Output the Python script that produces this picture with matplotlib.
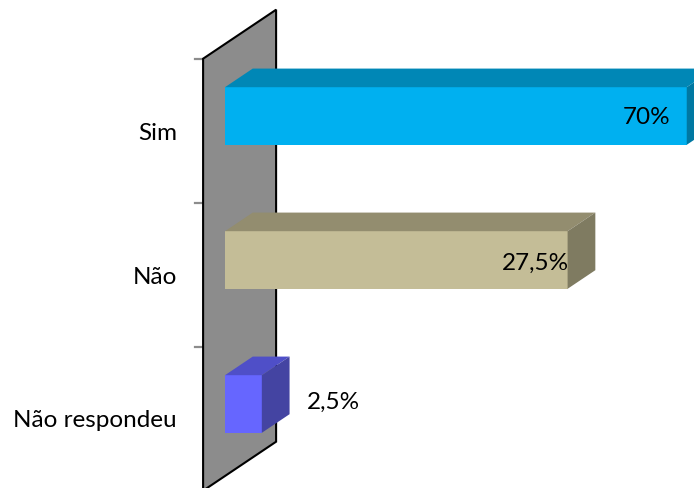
import matplotlib
matplotlib.use("Agg")
import matplotlib.pyplot as plt
from matplotlib.patches import Polygon
from matplotlib.transforms import IdentityTransform
import numpy as np

categories = ["Sim", "Não", "Não respondeu"]
values = [70, 27.5, 2.5]
value_labels = ["70%", "27,5%", "2,5%"]

front_colors = ["#00B0F0", "#C4BD97", "#6666FF"]
top_colors = ["#0087B6", "#938D6F", "#4F4FC8"]
side_colors = ["#0078A2", "#7F7B61", "#4444A2"]

plt.rcParams["font.family"] = ["Lato", "DejaVu Sans"]

W, H = 694, 489
fig = plt.figure(figsize=(W / 100, H / 100), dpi=100)
ax = fig.add_axes([225 / W, 12 / H, (W - 225) / W, 432 / H])
ax.patch.set_alpha(0)
ax.axis("off")

xmin, xmax = 1.873, 74.1
ax.set_xscale("log")
ax.set_xlim(xmin, xmax)
ax.set_ylim(2.5, -0.5)
ax.set_autoscale_on(False)

# depth direction of the 3d box, in pixels
depth = np.array([73.0, 49.0])
front_shift = -0.30 * depth   # wall front plane relative to bar fronts
bar_depth = 0.38 * depth

ident = IdentityTransform()
to_px = ax.transData.transform

# back wall
p_top = to_px((xmin, -0.5)) + front_shift
p_bot = to_px((xmin, 2.5)) + front_shift
wall = Polygon([p_bot, p_top, p_top + depth, p_bot + depth], closed=True,
               facecolor="#8C8C8C", edgecolor="black", linewidth=1.5,
               transform=ident, clip_on=False, zorder=0.5)
ax.add_patch(wall)

# ticks on the category axis
for b in [-0.5, 0.5, 1.5, 2.5]:
    p = to_px((xmin, b)) + front_shift
    ax.plot([p[0] - 8, p[0]], [p[1], p[1]], color="#8C8C8C", lw=1.6,
            transform=ident, clip_on=False, zorder=0.4)

bar_h = 0.40
y = np.arange(len(categories))
ax.barh(y, [v - xmin for v in values], left=xmin, height=bar_h,
        color=front_colors, linewidth=0, zorder=2)

for i, v in enumerate(values):
    tl = to_px((xmin, i - bar_h / 2))
    tr = to_px((v, i - bar_h / 2))
    br = to_px((v, i + bar_h / 2))
    ax.add_patch(Polygon([tl, tr, tr + bar_depth, tl + bar_depth], closed=True,
                         facecolor=top_colors[i], linewidth=0,
                         transform=ident, clip_on=False, zorder=2))
    ax.add_patch(Polygon([br, tr, tr + bar_depth, br + bar_depth], closed=True,
                         facecolor=side_colors[i], linewidth=0,
                         transform=ident, clip_on=False, zorder=2))

# category labels sit on the wall's front plane
for i, name in enumerate(categories):
    ax.annotate(name, xy=(xmin, i), xytext=(-48, -16), textcoords="offset pixels",
                ha="right", va="center", fontsize=17.5, color="black",
                annotation_clip=False)

# value labels
label_offsets = [(-16, 0), (1, -2), (45, 3)]
label_ha = ["right", "right", "left"]
for i, (v, txt) in enumerate(zip(values, value_labels)):
    ax.annotate(txt, xy=(v, i), xytext=label_offsets[i], textcoords="offset pixels",
                ha=label_ha[i], va="center", fontsize=17.5, color="black",
                zorder=3, annotation_clip=False)

fig.savefig("out.png", dpi=100)
